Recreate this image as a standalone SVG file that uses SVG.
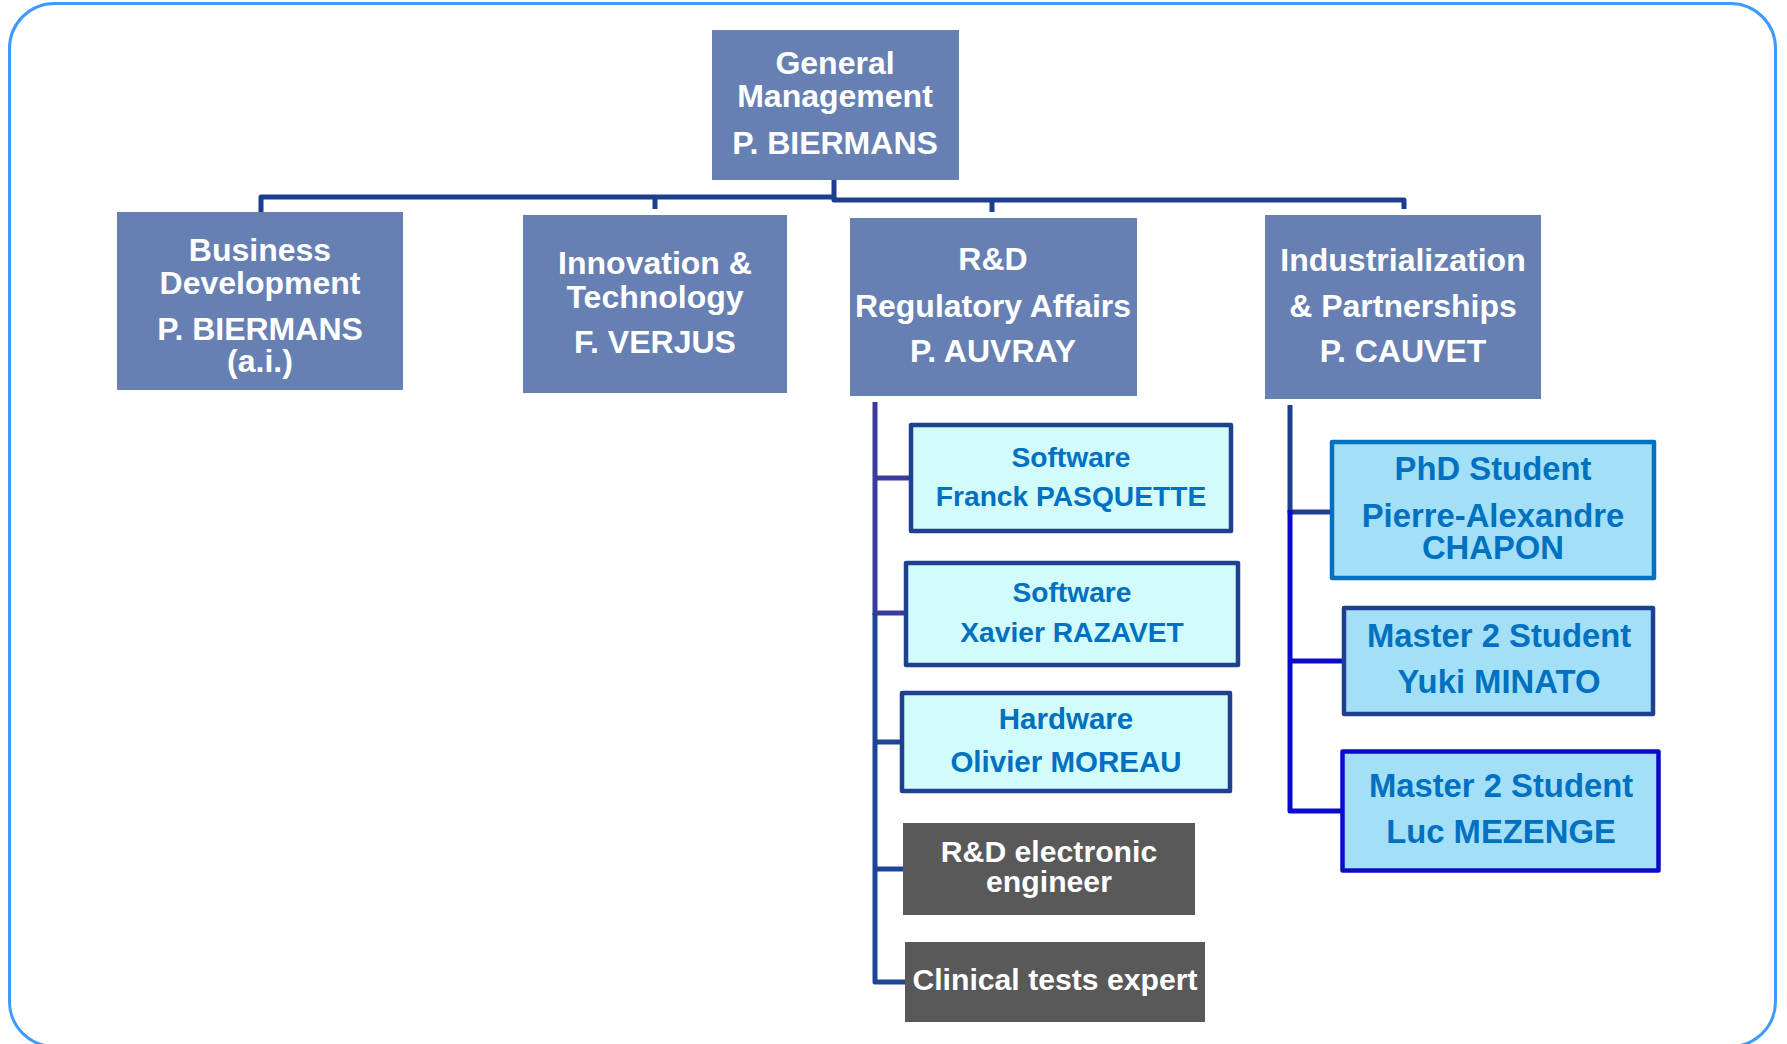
<svg xmlns="http://www.w3.org/2000/svg" width="1787" height="1044" viewBox="0 0 1787 1044">
<style>
text{font-family:"Liberation Sans",Arial,sans-serif;font-weight:bold;text-anchor:middle}
.top rect{fill:#6780B3}
.top text{fill:#fff;font-size:32px}
.sw rect{fill:#D2FBFB;stroke:#1F3F8F;stroke-width:4.5;stroke-linejoin:round}
.sw text{fill:#0070C0;font-size:28.2px}
.gr rect{fill:#595959}
.gr text{fill:#fff;font-size:30.2px}
.st rect{fill:#A3E0F8;stroke-width:4.5;stroke-linejoin:round}
.st text{fill:#0070C0;font-size:32.8px}
.c{fill:none;stroke-width:5;stroke-linejoin:round}
</style>
<rect x="9.5" y="3.5" width="1766" height="1043" rx="45" fill="#fff" stroke="#3D9BFF" stroke-width="3"/>
<g id="connectors">
<path class="c" stroke="#1B3E8E" d="M834 180V197H261V213M655 197V209"/>
<path class="c" stroke="#1B3E8E" d="M834 197V200H1404V209M992 200V212"/>
<path class="c" stroke="#3B3B9E" d="M875 402V615M875 478H911M875 613H906"/>
<path class="c" stroke="#1C4596" d="M875 613V982H906M875 742H902M875 869H904"/>
<path class="c" stroke="#1B3E8E" d="M1290 405V512H1332"/>
<path class="c" stroke="#0A0ACC" d="M1290 510V811H1342M1290 661H1344"/>
</g>
<g id="gm" class="top"><rect x="712" y="30" width="247" height="150"/>
<text x="835" y="74">General</text><text x="835" y="107">Management</text><text x="835" y="154">P. BIERMANS</text></g>
<g id="bd" class="top"><rect x="117" y="212" width="286" height="178"/>
<text x="260" y="261">Business</text><text x="260" y="294">Development</text><text x="260" y="340">P. BIERMANS</text><text x="260" y="372">(a.i.)</text></g>
<g id="it" class="top"><rect x="523" y="215" width="264" height="178"/>
<text x="655" y="274">Innovation &amp;</text><text x="655" y="308">Technology</text><text x="655" y="353">F. VERJUS</text></g>
<g id="rd" class="top"><rect x="850" y="218" width="287" height="178"/>
<text x="993" y="270">R&amp;D</text><text x="993" y="317">Regulatory Affairs</text><text x="993" y="362">P. AUVRAY</text></g>
<g id="ip" class="top"><rect x="1265" y="215" width="276" height="184"/>
<text x="1403" y="271">Industrialization</text><text x="1403" y="317">&amp; Partnerships</text><text x="1403" y="362">P. CAUVET</text></g>
<g id="sw1" class="sw"><rect x="911" y="425" width="320" height="106"/>
<text x="1071" y="467">Software</text><text x="1071" y="506">Franck PASQUETTE</text></g>
<g id="sw2" class="sw"><rect x="906" y="563" width="332" height="102"/>
<text x="1072" y="602">Software</text><text x="1072" y="642">Xavier RAZAVET</text></g>
<g id="hw" class="sw"><rect x="902" y="693" width="328" height="98"/>
<text x="1066" y="729" style="font-size:29.5px">Hardware</text><text x="1066" y="772" style="font-size:29.5px">Olivier MOREAU</text></g>
<g id="ee" class="gr"><rect x="903" y="823" width="292" height="92"/>
<text x="1049" y="862">R&amp;D electronic</text><text x="1049" y="892">engineer</text></g>
<g id="ct" class="gr"><rect x="905" y="942" width="300" height="80"/>
<text x="1055" y="990">Clinical tests expert</text></g>
<g id="phd" class="st"><rect x="1332" y="442" width="322" height="136" stroke="#0070C0"/>
<text x="1493" y="480">PhD Student</text><text x="1493" y="527">Pierre-Alexandre</text><text x="1493" y="559">CHAPON</text></g>
<g id="m2a" class="st"><rect x="1344" y="608" width="309" height="106" stroke="#1F3F8F"/>
<text x="1499" y="647">Master 2 Student</text><text x="1499" y="693">Yuki MINATO</text></g>
<g id="m2b" class="st"><rect x="1342.5" y="751.5" width="316" height="119" stroke="#0A0ACC" stroke-width="5"/>
<text x="1501" y="797">Master 2 Student</text><text x="1501" y="843">Luc MEZENGE</text></g>
</svg>
